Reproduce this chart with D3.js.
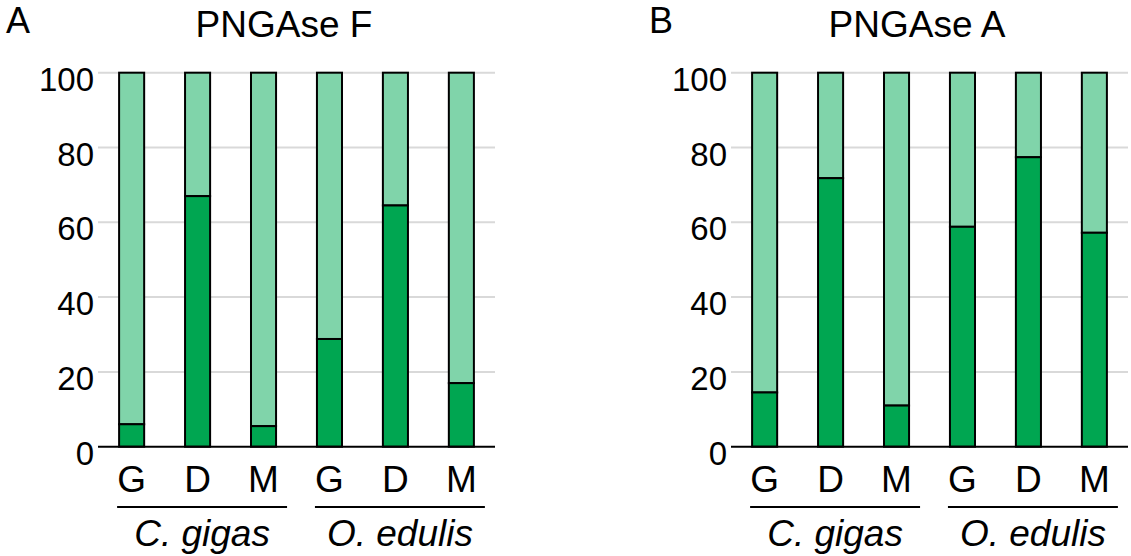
<!DOCTYPE html>
<html>
<head>
<meta charset="utf-8">
<script src="https://cdn.jsdelivr.net/npm/d3@7"></script>
<style>
  html, body { margin: 0; padding: 0; background: #fff; }
  svg { display: block; }
  text { font-family: "Liberation Sans", Arial, sans-serif; fill: #000; }
</style>
</head>
<body>
<svg id="chart" width="1131" height="556"></svg>
<script>
// ---- data ----
const species = ["C. gigas", "O. edulis"];
const tissues = ["G", "D", "M"];
const yTicks = [0, 20, 40, 60, 80, 100];
const panelTitles = ["PNGAse F", "PNGAse A"];
const panelLetters = ["A", "B"];
// dark (bottom) segment, percent; light segment fills up to 100
const pngaseF = [6, 67, 5.5, 28.8, 64.5, 17];
const pngaseA = [14.5, 71.8, 11, 58.8, 77.4, 57.2];

const darkColor = "#00a651";
const lightColor = "#80d4aa";

const svg = d3.select("#chart");

function drawPanel(offsetX, title, letter, values) {
  const g = svg.append("g").attr("transform", `translate(${offsetX},0)`);
  const cats = [];
  species.forEach(s => tissues.forEach(t => cats.push({ key: s + "|" + t, sp: s, t: t })));
  const rows = cats.map((c, i) => ({ ...c, v: values[i] }));

  const x = d3.scaleBand().domain(cats.map(c => c.key)).range([98, 495])
    .paddingInner(0.62).paddingOuter(0.32);
  const y = d3.scaleLinear().domain([0, 100]).range([446.7, 72.7]);

  // gridlines
  g.append("g").selectAll("line").data(yTicks.filter(d => d > 0)).join("line")
    .attr("x1", 98).attr("x2", 495)
    .attr("y1", d => y(d)).attr("y2", d => y(d))
    .attr("stroke", "#d9d9d9").attr("stroke-width", 2);

  // y tick labels
  g.append("g").selectAll("text").data(yTicks).join("text")
    .attr("x", 94).attr("y", d => y(d) + 18)
    .attr("text-anchor", "end").attr("font-size", 33)
    .text(d => d);

  // stacked bars
  const bars = g.append("g");
  bars.selectAll("rect.light").data(rows).join("rect").attr("class", "light")
    .attr("x", d => x(d.key)).attr("width", x.bandwidth())
    .attr("y", y(100)).attr("height", d => y(d.v) - y(100))
    .attr("fill", lightColor).attr("stroke", "#000").attr("stroke-width", 2);
  bars.selectAll("rect.dark").data(rows).join("rect").attr("class", "dark")
    .attr("x", d => x(d.key)).attr("width", x.bandwidth())
    .attr("y", d => y(d.v)).attr("height", d => y(0) - y(d.v))
    .attr("fill", darkColor).attr("stroke", "#000").attr("stroke-width", 2);

  // baseline
  g.append("line").attr("x1", 98).attr("x2", 495)
    .attr("y1", y(0)).attr("y2", y(0))
    .attr("stroke", "#000").attr("stroke-width", 2);

  // x category labels
  g.append("g").selectAll("text").data(rows).join("text")
    .attr("x", d => x(d.key) + x.bandwidth() / 2).attr("y", 492)
    .attr("text-anchor", "middle").attr("font-size", 37)
    .text(d => d.t);

  // species brackets
  species.forEach(s => {
    const first = x(s + "|" + tissues[0]);
    const last = x(s + "|" + tissues[tissues.length - 1]) + x.bandwidth();
    const x1 = first - 2, x2 = last + 11;
    g.append("line").attr("x1", x1).attr("x2", x2).attr("y1", 507).attr("y2", 507)
      .attr("stroke", "#000").attr("stroke-width", 2);
    g.append("text").attr("x", (x1 + x2) / 2).attr("y", 546)
      .attr("text-anchor", "middle").attr("font-size", 37)
      .attr("font-style", "italic").text(s);
  });

  // title
  g.append("text").attr("x", 284).attr("y", 37)
    .attr("text-anchor", "middle").attr("font-size", 37).text(title);
  // panel letter
  g.append("text").attr("x", 6 + (letter === "B" ? 10 : 0)).attr("y", 33)
    .attr("font-size", 36).text(letter);
}

drawPanel(0, panelTitles[0], panelLetters[0], pngaseF);
drawPanel(633, panelTitles[1], panelLetters[1], pngaseA);
</script>
</body>
</html>
